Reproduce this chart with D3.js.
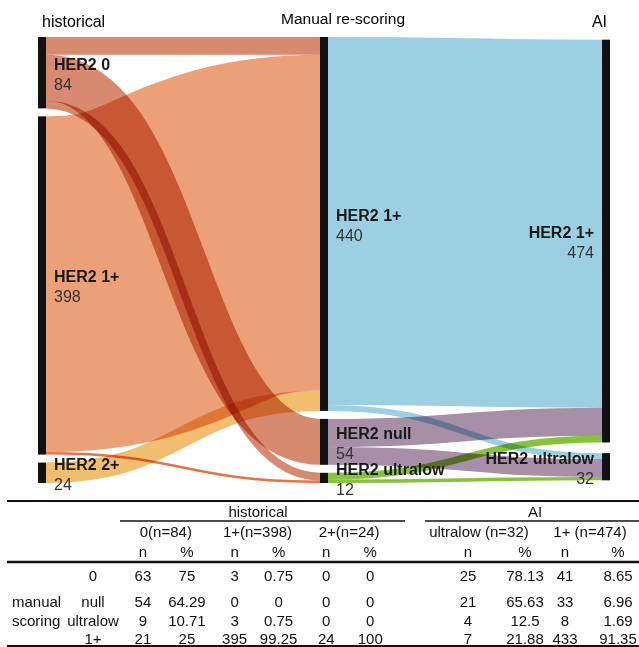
<!DOCTYPE html>
<html><head>
<meta charset="utf-8">
<title>HER2 re-scoring</title>
<script src="https://d3js.org/d3.v7.min.js"></script>
<style>
  body { margin: 0; background: #fff; }
  svg { display: block; font-family: "Liberation Sans", Arial, sans-serif; }
  .link { fill: none; mix-blend-mode: multiply; }
</style>
</head>
<body>
<svg id="chart" width="639" height="647"></svg>
<script>
// sankey columns
const columnTitles = ["historical", "Manual re-scoring", "AI"];
const historicalNodes = ["HER2 0", "HER2 1+", "HER2 2+"];
const manualNodes = ["HER2 1+", "HER2 null", "HER2 ultralow"];
const aiNodes = ["HER2 1+", "HER2 ultralow"];

// flows [source, target, count]
const histToManual = [
  ["HER2 0", "HER2 1+", 21],
  ["HER2 0", "HER2 null", 54],
  ["HER2 0", "HER2 ultralow", 9],
  ["HER2 1+", "HER2 1+", 395],
  ["HER2 1+", "HER2 ultralow", 3],
  ["HER2 2+", "HER2 1+", 24]
];
const manualToAI = [
  ["HER2 1+", "HER2 1+", 433],
  ["HER2 1+", "HER2 ultralow", 7],
  ["HER2 null", "HER2 1+", 33],
  ["HER2 null", "HER2 ultralow", 21],
  ["HER2 ultralow", "HER2 1+", 8],
  ["HER2 ultralow", "HER2 ultralow", 4]
];

// table below
const rowLabels = ["0", "null", "ultralow", "1+"];
const histGroups = ["0(n=84)", "1+(n=398)", "2+(n=24)"];
const histN = [[63, 3, 0], [54, 0, 0], [9, 3, 0], [21, 395, 24]];
const histPct = [["75", "0.75", "0"], ["64.29", "0", "0"], ["10.71", "0.75", "0"], ["25", "99.25", "100"]];
const aiGroups = ["ultralow (n=32)", "1+ (n=474)"];
const aiN = [[25, 41], [21, 33], [4, 8], [7, 433]];
const aiPct = [["78.13", "8.65"], ["65.63", "6.96"], ["12.5", "1.69"], ["21.88", "91.35"]];

const svg = d3.select("#chart");

// ---------- sankey layout (done by hand, d3-sankey isn't available) ----------
const y0 = 37, y1 = 483, nodeW = 8, pad = 8;
const colX = d3.scalePoint().domain([0, 1, 2]).range([38, 602]);
const columns = [historicalNodes, manualNodes, aiNodes];

const nodes = [];
columns.forEach((names, c) => names.forEach(name => {
  nodes.push({ id: c + "|" + name, name: name, col: c, sourceLinks: [], targetLinks: [] });
}));
const byId = new Map(nodes.map(n => [n.id, n]));
const links = [];
histToManual.forEach(([s, t, v]) => links.push({ source: byId.get("0|" + s), target: byId.get("1|" + t), value: v }));
manualToAI.forEach(([s, t, v]) => links.push({ source: byId.get("1|" + s), target: byId.get("2|" + t), value: v }));
links.forEach(l => { l.source.sourceLinks.push(l); l.target.targetLinks.push(l); });
nodes.forEach(n => {
  n.value = Math.max(d3.sum(n.sourceLinks, l => l.value), d3.sum(n.targetLinks, l => l.value));
});

const ky = d3.min(columns, (names, c) =>
  (y1 - y0 - (names.length - 1) * pad) / d3.sum(nodes.filter(n => n.col === c), n => n.value));
const size = d3.scaleLinear().domain([0, 1]).range([0, ky]);

columns.forEach((names, c) => {
  const col = nodes.filter(n => n.col === c);
  let y = y0;
  col.forEach(n => {
    n.x0 = colX(c); n.x1 = n.x0 + nodeW;
    n.y0 = y; n.y1 = y + size(n.value);
    y = n.y1 + pad;
  });
  const extra = (y1 - y + pad) / (col.length + 1);
  col.forEach((n, i) => { n.y0 += extra * (i + 1); n.y1 += extra * (i + 1); });
});

nodes.forEach(n => {
  n.sourceLinks.sort((a, b) => a.target.y0 - b.target.y0);
  n.targetLinks.sort((a, b) => a.source.y0 - b.source.y0);
  let y = n.y0;
  n.sourceLinks.forEach(l => { l.width = size(l.value); l.y0 = y + l.width / 2; y += l.width; });
  y = n.y0;
  n.targetLinks.forEach(l => { l.y1 = y + size(l.value) / 2; y += size(l.value); });
});

const linkColor = d3.scaleOrdinal()
  .domain(["0|HER2 0", "0|HER2 1+", "0|HER2 2+", "1|HER2 1+", "1|HER2 null", "1|HER2 ultralow"])
  .range(["#d88a70", "#eba078", "#f1bd70", "#9dcfe2", "#a78fa7", "#88c23c"]);

const linkPath = d3.linkHorizontal()
  .source(l => [l.source.x1, l.y0])
  .target(l => [l.target.x0, l.y1]);

svg.append("g")
  .style("isolation", "isolate")
  .selectAll("path.link").data(links)
  .join("path")
  .attr("class", "link")
  .attr("d", linkPath)
  // the thin orange one reads stronger in the original
  .attr("stroke", l => l.width < 3 ? "#e27546" : linkColor(l.source.id))
  .attr("stroke-width", l => Math.max(1.5, l.width));

svg.selectAll("rect.node").data(nodes)
  .join("rect")
  .attr("class", "node")
  .attr("x", n => n.x0)
  .attr("y", n => n.y0)
  .attr("width", nodeW)
  .attr("height", n => n.y1 - n.y0)
  .attr("fill", "#111");

const labels = svg.selectAll("g.label").data(nodes)
  .join("g")
  .attr("class", "label")
  .attr("transform", n => n.col < 2
    ? `translate(${n.x1 + 8},${(n.y0 + n.y1) / 2})`
    : `translate(${n.x0 - 8},${(n.y0 + n.y1) / 2})`)
  .attr("text-anchor", n => n.col < 2 ? "start" : "end");
labels.append("text")
  .attr("y", -3)
  .attr("font-size", 16)
  .attr("font-weight", "bold")
  .attr("fill", "#1a1a1a")
  .text(n => n.name);
labels.append("text")
  .attr("y", 17)
  .attr("font-size", 16)
  .attr("fill", "#333")
  .text(n => n.value);

// column titles
svg.append("text").attr("x", 42).attr("y", 27).attr("font-size", 16).text(columnTitles[0]);
svg.append("text").attr("x", 281).attr("y", 24).attr("font-size", 15.5).text(columnTitles[1]);
svg.append("text").attr("x", 607).attr("y", 27).attr("font-size", 16).attr("text-anchor", "end").text(columnTitles[2]);

// ---------- table ----------
const tbl = svg.append("g").attr("font-size", 15).attr("fill", "#111");
const rowY = [581, 607, 626, 644];
const histBand = d3.scaleBand().domain(histGroups).range([120, 395]);
const histX = (g, k) => histBand(histGroups[g]) + histBand.bandwidth() * (k === 0 ? 0.25 : 0.73);
const aiColX = [468, 525, 565, 618];
const aiCenter = [479, 590];

const rule = (xa, xb, y, w) => tbl.append("line")
  .attr("x1", xa).attr("x2", xb).attr("y1", y).attr("y2", y)
  .attr("stroke", "#111").attr("stroke-width", w);
rule(7, 639, 501, 2);
rule(120, 405, 521, 1.5);
rule(425, 639, 521, 1.5);
rule(7, 639, 562, 2.5);
rule(7, 639, 646, 2);

tbl.append("text").attr("x", 258).attr("y", 517).attr("text-anchor", "middle").text(columnTitles[0]);
tbl.append("text").attr("x", 535).attr("y", 517).attr("text-anchor", "middle").text(columnTitles[2]);

histGroups.forEach((g, i) => {
  tbl.append("text").attr("x", histBand(g) + histBand.bandwidth() / 2).attr("y", 537)
    .attr("text-anchor", "middle").text(g);
  ["n", "%"].forEach((h, k) => tbl.append("text").attr("x", histX(i, k)).attr("y", 557)
    .attr("text-anchor", "middle").text(h));
});
aiGroups.forEach((g, i) => {
  tbl.append("text").attr("x", aiCenter[i]).attr("y", 537).attr("text-anchor", "middle").text(g);
  ["n", "%"].forEach((h, k) => tbl.append("text").attr("x", aiColX[i * 2 + k]).attr("y", 557)
    .attr("text-anchor", "middle").text(h));
});

rowLabels.forEach((r, j) => {
  tbl.append("text").attr("x", 93).attr("y", rowY[j]).attr("text-anchor", "middle").text(r);
  histGroups.forEach((g, i) => {
    tbl.append("text").attr("x", histX(i, 0)).attr("y", rowY[j]).attr("text-anchor", "middle").text(histN[j][i]);
    tbl.append("text").attr("x", histX(i, 1)).attr("y", rowY[j]).attr("text-anchor", "middle").text(histPct[j][i]);
  });
  aiGroups.forEach((g, i) => {
    tbl.append("text").attr("x", aiColX[i * 2]).attr("y", rowY[j]).attr("text-anchor", "middle").text(aiN[j][i]);
    tbl.append("text").attr("x", aiColX[i * 2 + 1]).attr("y", rowY[j]).attr("text-anchor", "middle").text(aiPct[j][i]);
  });
});
tbl.append("text").attr("x", 12).attr("y", rowY[1]).text("manual");
tbl.append("text").attr("x", 12).attr("y", rowY[2]).text("scoring");
</script>
</body>
</html>
